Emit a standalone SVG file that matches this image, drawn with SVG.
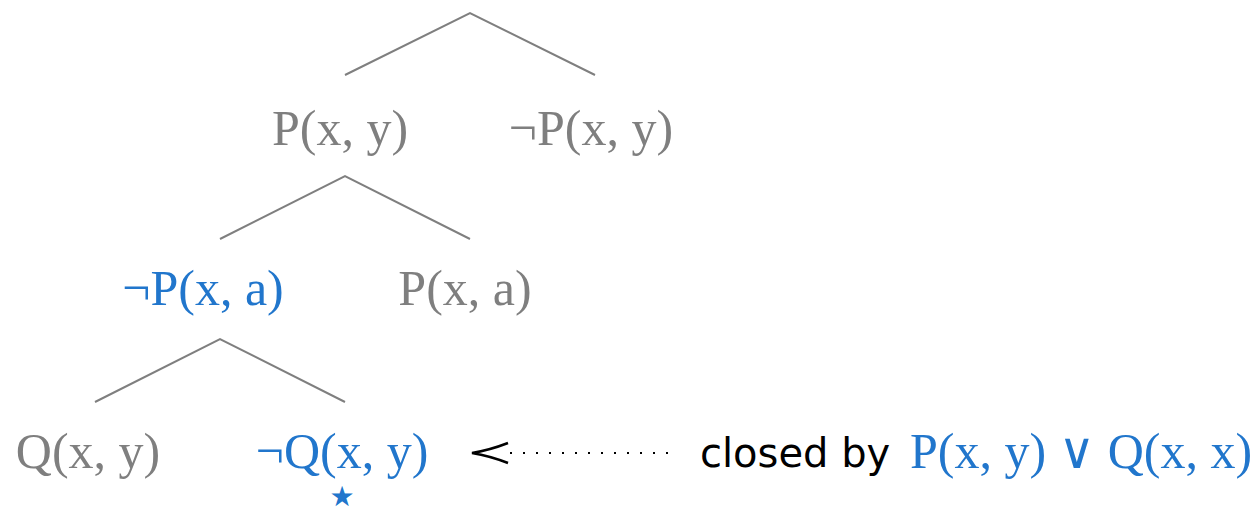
<svg xmlns="http://www.w3.org/2000/svg" width="1252" height="513" viewBox="0 0 1252 513">
<defs>
<style>
.g{fill:#7f7f7f}
.b{fill:#2176cc}
.t{font-family:"Liberation Serif","DejaVu Serif",serif;font-size:50px;text-anchor:middle}
.s{font-family:"DejaVu Sans","Liberation Sans",sans-serif;font-size:40px;fill:#000}
.e{stroke:#7f7f7f;stroke-width:2;fill:none}
</style>
</defs>
<g id="connectors">
<path class="e" d="M345 75 L470 13 L595 75"/>
<path class="e" d="M220 239 L345 176 L470 239"/>
<path class="e" d="M95 402 L220 339 L345 402"/>
<path d="M668 453 L510 453" stroke="#000" stroke-width="2" stroke-dasharray="2 11" fill="none"/>
<path d="M508 443 Q490 450 472 453 Q490 456 508 463" stroke="#000" stroke-width="2.5" fill="none"/>
</g>
<g id="n1"><text class="t g" x="340" y="145">P(x, y)</text></g>
<g id="n2"><text class="t g" x="591" y="145">¬P(x, y)</text></g>
<g id="n3"><text class="t b" x="203" y="305">¬P(x, a)</text></g>
<g id="n4"><text class="t g" x="465" y="305">P(x, a)</text></g>
<g id="n5"><text class="t g" x="88" y="468">Q(x, y)</text></g>
<g id="n6"><text class="t b" x="342" y="468">¬Q(x, y)</text>
<text class="b" x="342" y="506" font-family="DejaVu Sans,sans-serif" font-size="28" text-anchor="middle">★</text></g>
<g id="label">
<text class="s" x="700" y="467">closed by</text>
<text class="t b" x="1081" y="468" font-size="48">P(x, y) ∨ Q(x, x)</text>
</g>
</svg>
